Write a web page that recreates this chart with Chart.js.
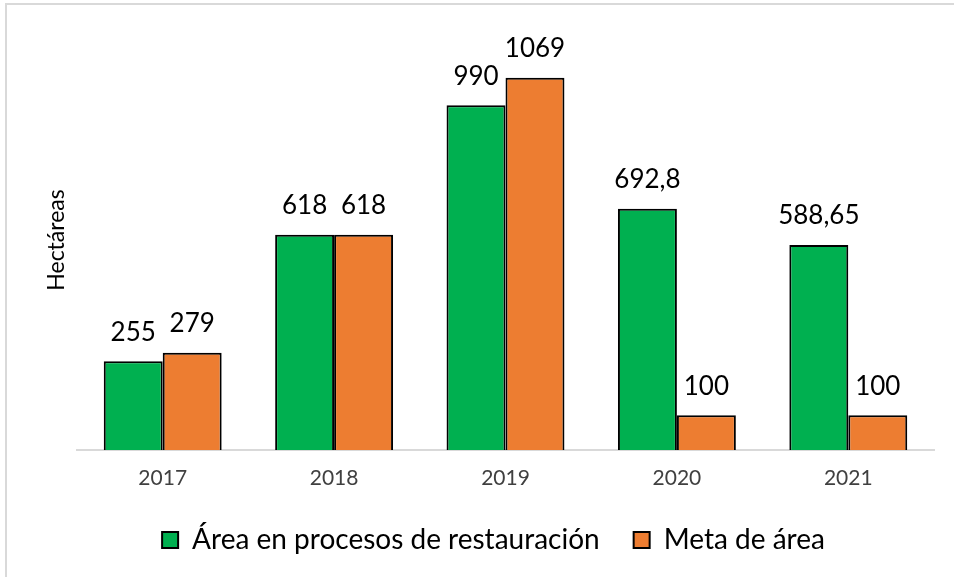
<!DOCTYPE html>
<html>
<head>
<meta charset="utf-8">
<script src="https://cdn.jsdelivr.net/npm/chart.js@4"></script>
<style>
    body { margin: 0; background: #fff; }
    #wrap { position: relative; width: 954px; height: 577px; }
</style>
</head>
<body>
<div id="wrap"><canvas id="chart" width="954" height="577"></canvas></div>
<script>
// ==================== DATA ====================
const years = ['2017', '2018', '2019', '2020', '2021'];
const areaRestauracion = [255, 618, 990, 692.8, 588.65];
const metaArea = [279, 618, 1069, 100, 100];
const seriesNames = ['Área en procesos de restauración', 'Meta de área'];
const yTitle = 'Hectáreas';

const FONT = 'Lato, "Open Sans", sans-serif';

// ── frame + background ─────────────────────────────────────────────
const framePlugin = {
    id: 'frame',
    beforeDraw(chart) {
        const ctx = chart.ctx;
        ctx.save();
        ctx.fillStyle = '#fff';
        ctx.fillRect(0, 0, chart.width, chart.height);
        ctx.fillStyle = '#d9d9d9';
        ctx.fillRect(5, 3, chart.width - 5, 2);
        ctx.fillRect(5, 3, 2, chart.height - 3);
        ctx.restore();
    }
};

// ── value labels above bars (decimal comma) ────────────────────────
const valueLabels = {
    id: 'valueLabels',
    afterDatasetsDraw(chart) {
        const ctx = chart.ctx;
        ctx.save();
        ctx.font = '26px ' + FONT;
        ctx.fillStyle = '#000';
        ctx.textAlign = 'center';
        ctx.textBaseline = 'middle';
        chart.data.datasets.forEach((ds, i) => {
            chart.getDatasetMeta(i).data.forEach((bar, j) => {
                const txt = String(ds.data[j]).replace('.', ',');
                ctx.fillText(txt, bar.x, bar.y - 29);
            });
        });
        ctx.restore();
    }
};

// ── rotated y title ────────────────────────────────────────────────
const yTitlePlugin = {
    id: 'yTitle',
    afterDraw(chart) {
        const ctx = chart.ctx;
        ctx.save();
        ctx.translate(57, 240);
        ctx.rotate(-Math.PI / 2);
        ctx.font = '23px ' + FONT;
        ctx.fillStyle = '#000';
        ctx.textAlign = 'center';
        ctx.textBaseline = 'middle';
        ctx.fillText(yTitle, 0, 0);
        ctx.restore();
    }
};

new Chart(document.getElementById('chart').getContext('2d'), {
    type: 'bar',
    data: {
        labels: years,
        datasets: [{
            label: seriesNames[0],
            data: areaRestauracion,
            backgroundColor: '#00b050',
            borderColor: '#000',
            borderWidth: 2
        }, {
            label: seriesNames[1],
            data: metaArea,
            backgroundColor: '#ed7d31',
            borderColor: '#000',
            borderWidth: 2
        }]
    },
    options: {
        responsive: false,
        animation: false,
        devicePixelRatio: 1,
        layout: { padding: { left: 53, right: 20, top: 32, bottom: 13 } },
        datasets: {
            bar: { barPercentage: 1, categoryPercentage: 0.688 }
        },
        scales: {
            x: {
                grid: { display: false, drawTicks: false },
                border: { display: true, color: '#d9d9d9', width: 2 },
                ticks: { font: { family: FONT, size: 21 }, color: '#404040', padding: 16 },
                afterFit(scale) { scale.height = 42; }
            },
            y: {
                min: 0,
                max: 1200,
                grid: { display: false, drawTicks: false },
                border: { display: false },
                ticks: { display: false },
                afterFit(scale) { scale.width = 24; }
            }
        },
        plugins: {
            legend: {
                position: 'bottom',
                labels: {
                    boxWidth: 16,
                    boxHeight: 16,
                    padding: 34,
                    color: '#000',
                    font: { family: FONT, size: 28 }
                }
            },
            tooltip: { enabled: false }
        }
    },
    plugins: [framePlugin, valueLabels, yTitlePlugin]
});
</script>
</body>
</html>
